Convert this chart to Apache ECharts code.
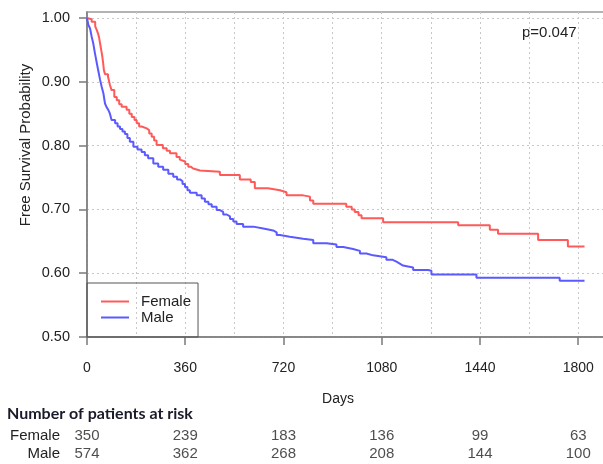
<!DOCTYPE html>
<html>
<head>
<meta charset="utf-8">
<script src="https://cdn.jsdelivr.net/npm/echarts@6/dist/echarts.min.js"></script>
<style>html,body{margin:0;padding:0;background:#fff;}#c{width:603px;height:464px;}</style>
</head>
<body>
<div id="c"></div>
<script>
// ---- data ----
const femaleDays = [0,5,17,30,36,40,44,48,52,56,59,62,66,77,84,90,100,109,118,127,145,155,164,174,182,191,200,219,228,237,246,255,278,292,304,328,340,347,360,371,380,389,414,487,560,600,615,663,707,731,792,817,829,950,970,981,995,1006,1085,1360,1476,1506,1653,1762,1823];
const femaleSurv = [1.000,0.998,0.994,0.987,0.981,0.976,0.970,0.960,0.950,0.940,0.930,0.918,0.912,0.908,0.895,0.887,0.876,0.871,0.865,0.861,0.856,0.850,0.845,0.840,0.835,0.830,0.827,0.824,0.819,0.814,0.808,0.801,0.796,0.792,0.788,0.782,0.778,0.775,0.771,0.767,0.764,0.761,0.759,0.754,0.747,0.743,0.733,0.730,0.727,0.722,0.720,0.714,0.709,0.704,0.700,0.696,0.691,0.686,0.680,0.675,0.668,0.662,0.652,0.642,0.642];
const maleDays = [0,1,5,11,17,23,29,36,41,48,54,60,66,72,78,84,90,103,112,121,130,139,148,157,170,185,200,212,224,243,261,279,298,316,330,341,350,359,368,377,402,420,432,445,457,475,487,499,512,524,536,548,572,609,646,682,695,707,743,792,829,878,914,939,975,1000,1024,1048,1097,1120,1134,1146,1158,1195,1250,1262,1427,1732,1823];
const maleSurv = [1.000,0.997,0.989,0.984,0.971,0.960,0.945,0.929,0.918,0.903,0.892,0.882,0.866,0.860,0.856,0.850,0.840,0.835,0.830,0.826,0.822,0.818,0.812,0.806,0.798,0.794,0.790,0.785,0.780,0.772,0.767,0.762,0.756,0.751,0.747,0.744,0.740,0.735,0.730,0.726,0.722,0.717,0.712,0.708,0.704,0.699,0.696,0.692,0.689,0.685,0.681,0.677,0.673,0.670,0.667,0.664,0.660,0.657,0.654,0.652,0.647,0.645,0.641,0.638,0.635,0.631,0.628,0.625,0.621,0.618,0.615,0.612,0.609,0.605,0.604,0.598,0.593,0.588,0.588];
const groups = ['Female','Male'];
const xTicks = [0,360,720,1080,1440,1800];
const yTicks = [0.5,0.6,0.7,0.8,0.9,1.0];
const riskFemale = [350,239,183,136,99,63];
const riskMale = [574,362,268,208,144,100];
const pText = 'p=0.047';
const xTitle = 'Days';
const yTitle = 'Free Survival Probability';
const riskTitle = 'Number of patients at risk';

// ---- chart ----
const FONT = '"Liberation Sans", Arial, sans-serif';
const TXT = '#222';
const XMAX = 1942;
const chart = echarts.init(document.getElementById('c'), null, {renderer:'canvas'});
const zip = (a,b) => a.map((v,i)=>[v,b[i]]);
const riskData = [];
xTicks.forEach((d,i)=>{ riskData.push([d,groups[0],riskFemale[i]]); riskData.push([d,groups[1],riskMale[i]]); });
const gridDash = {color:'#c8c8c8', width:1, type:[2,3]};

chart.setOption({
  animation:false,
  grid:[
    {left:87, width:530, top:12, bottom:127, show:true, borderColor:'#9a9a9a', borderWidth:1.5, backgroundColor:'transparent', outerBoundsMode:'none', containLabel:false},
    {left:87, width:530, top:427, height:36, outerBoundsMode:'none', containLabel:false}
  ],
  xAxis:[
    {type:'value', gridIndex:0, min:0, max:XMAX, interval:360, position:'bottom',
      axisLine:{show:true, onZero:false, lineStyle:{color:'#7a7a7a', width:1.5}},
      axisTick:{show:true, length:8, customValues:xTicks, lineStyle:{color:'#7a7a7a', width:1.5}},
      axisLabel:{customValues:xTicks, margin:24, fontSize:14, fontFamily:FONT, color:TXT, formatter:v=>String(v)},
      splitLine:{show:false}},
    {type:'value', gridIndex:0, min:0, max:XMAX, interval:180, position:'bottom',
      axisLine:{show:false}, axisTick:{show:false}, axisLabel:{show:false},
      splitLine:{show:true, lineStyle:gridDash}},
    {type:'value', gridIndex:1, min:0, max:XMAX, show:false}
  ],
  yAxis:[
    {type:'value', gridIndex:0, min:0.5, max:1.0094, interval:0.1,
      axisLine:{show:true, onZero:false, lineStyle:{color:'#7a7a7a', width:1.5}},
      axisTick:{show:true, length:8, customValues:yTicks, lineStyle:{color:'#7a7a7a', width:1.5}},
      axisLabel:{customValues:yTicks, margin:17, fontSize:14.5, fontFamily:FONT, color:TXT, formatter:v=>v.toFixed(2)},
      splitLine:{show:true, lineStyle:gridDash}},
    {type:'category', gridIndex:1, data:groups, inverse:true,
      axisLine:{show:false}, axisTick:{show:false}, splitLine:{show:false},
      axisLabel:{interval:0, margin:27, fontSize:15, fontFamily:FONT, color:TXT}}
  ],
  legend:{
    orient:'vertical', left:87, top:283, data:groups,
    backgroundColor:'transparent', borderColor:'#555', borderWidth:1, borderRadius:0,
    padding:[11,7,12,13], itemGap:1, itemWidth:28, itemHeight:14,
    itemStyle:{opacity:0},
    textStyle:{fontSize:15, fontFamily:FONT, color:TXT, padding:[0,0,0,7]}
  },
  series:[
    {name:groups[0], type:'line', step:'end', xAxisIndex:0, yAxisIndex:0, data:zip(femaleDays,femaleSurv),
      showSymbol:false, symbol:'none', lineStyle:{color:'#ff5a5a', width:2}, itemStyle:{color:'#ff5a5a'}, z:3},
    {name:groups[1], type:'line', step:'end', xAxisIndex:0, yAxisIndex:0, data:zip(maleDays,maleSurv),
      showSymbol:false, symbol:'none', lineStyle:{color:'#5a5aff', width:2}, itemStyle:{color:'#5a5aff'}, z:3},
    {type:'scatter', xAxisIndex:2, yAxisIndex:1, data:riskData, symbolSize:1, itemStyle:{color:'transparent'},
      encode:{x:0, y:1}, labelLayout:{hideOverlap:false},
      label:{show:true, position:'inside', formatter:p=>String(p.value[2]), fontSize:15, fontFamily:FONT, color:TXT}}
  ],
  graphic:[
    {type:'text', left:522, top:25, style:{text:pText, font:'15px '+FONT, fill:TXT}},
    {type:'text', x:338, y:399, style:{text:xTitle, font:'14px '+FONT, fill:TXT, textAlign:'center', textVerticalAlign:'middle'}},
    {type:'text', x:26, y:145, rotation:Math.PI/2, style:{text:yTitle, font:'15px '+FONT, fill:TXT, textAlign:'center', textVerticalAlign:'middle'}},
    {type:'text', x:7, y:414, style:{text:riskTitle, font:'bold 16px Lato, sans-serif', fill:'#1a1a2a', textAlign:'left', textVerticalAlign:'middle'}}
  ]
});
</script>
</body>
</html>
